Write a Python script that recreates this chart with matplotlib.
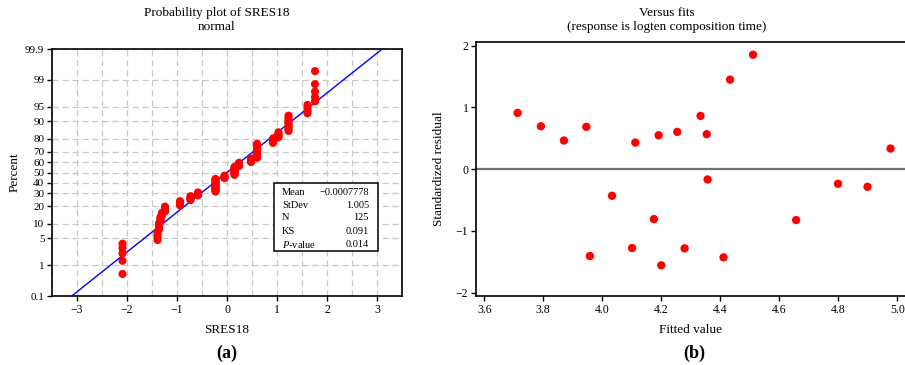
import numpy as np
import matplotlib
matplotlib.use("Agg")
import matplotlib.pyplot as plt
from matplotlib.patches import Rectangle
from matplotlib.ticker import MultipleLocator
from statistics import NormalDist

plt.rcParams['font.family'] = ['Liberation Serif', 'DejaVu Serif']
plt.rcParams['mathtext.fontset'] = 'custom'
plt.rcParams['mathtext.rm'] = 'Liberation Serif'
plt.rcParams['mathtext.it'] = 'Liberation Serif:italic'

# (a) probability plot: distinct residual values and how many share each
sres_values = [-2.09, -1.39, -1.36, -1.33, -1.30, -1.24, -0.94, -0.73, -0.58,
               -0.23, -0.05, 0.15, 0.24, 0.48, 0.60, 0.92, 1.03, 1.23, 1.61, 1.76]
sres_counts = [5, 4, 4, 4, 3, 5, 5, 5, 4, 16, 4, 11, 5, 5, 16, 5, 5, 10, 4, 5]
fit_mean = -0.0007778
fit_sd = 1.005
pct_ticks = [0.1, 1, 5, 10, 20, 30, 40, 50, 60, 70, 80, 90, 95, 99, 99.9]
pct_labels = ['0.1', '1', '5', '10', '20', '30', '40', '50', '60', '70',
              '80', '90', '95', '99', '99.9']
x_ticks_a = [-3, -2, -1, 0, 1, 2, 3]
stat_names = ['Mean', 'StDev', 'N', 'KS', '$P$-value']
stat_values = ['\u22120.0007778', '1.005', '125', '0.091', '0.014']

# (b) standardized residual versus fitted value
fitted = [3.713, 3.792, 3.870, 3.946, 3.958, 4.033, 4.101, 4.112, 4.175, 4.191,
          4.200, 4.254, 4.279, 4.333, 4.354, 4.357, 4.411, 4.433, 4.511, 4.657,
          4.799, 4.899, 4.977]
std_resid = [0.911, 0.695, 0.464, 0.685, -1.407, -0.431, -1.278, 0.431, -0.809, 0.550,
             -1.558, 0.604, -1.283, 0.863, 0.566, -0.167, -1.429, 1.450, 1.854, -0.825,
             -0.237, -0.286, 0.334]
x_ticks_b = [3.6, 3.8, 4.0, 4.2, 4.4, 4.6, 4.8, 5.0]
y_ticks_b = [-2, -1, 0, 1, 2]

nd = NormalDist()

fig = plt.figure(figsize=(9.05, 3.65), dpi=100)
ax1 = fig.add_axes([52 / 905, 69 / 365, 350 / 905, 247 / 365])
ax2 = fig.add_axes([476 / 905, 69 / 365, 429 / 905, 254 / 365])

# ---- left panel
xs = np.repeat(sres_values, sres_counts)
n = len(xs)
ranks = np.arange(1, n + 1)
pct = (ranks - 0.3) / (n + 0.4)
zs = np.array([nd.inv_cdf(p) for p in pct])

z_lo = nd.inv_cdf(0.001)
z_hi = nd.inv_cdf(0.999)
zline = np.linspace(z_lo - 0.2, z_hi + 0.2, 50)
ax1.plot(fit_mean + fit_sd * zline, zline, color='#0000ff', lw=1.0, zorder=3)
ax1.scatter(xs, zs, s=34, color='#ff0000', edgecolors='none', zorder=4)

ax1.set_xlim(-3.5, 3.5)
ax1.set_ylim(z_lo, z_hi)
ax1.set_xticks(x_ticks_a)
ax1.set_xticklabels([str(t).replace('-', '\u2212') for t in x_ticks_a])
ax1.xaxis.set_minor_locator(MultipleLocator(0.5))
ax1.set_yticks([nd.inv_cdf(p / 100) for p in pct_ticks])
ax1.set_yticklabels(pct_labels)
ax1.grid(True, which='both', axis='x', color='#c8c8c8', ls=(0, (5, 3)), lw=0.9)
ax1.grid(True, which='major', axis='y', color='#c8c8c8', ls=(0, (5, 3)), lw=0.9)
ax1.set_axisbelow(True)
ax1.tick_params(which='major', direction='out', length=3.5, width=1, pad=2)
ax1.tick_params(axis='x', labelsize=8.5)
ax1.tick_params(axis='y', labelsize=8)
ax1.tick_params(which='minor', length=0)
for sp in ax1.spines.values():
    sp.set_linewidth(1.2)
ax1.set_xlabel('SRES18', fontsize=9.5, labelpad=6)
ax1.set_ylabel('Percent', fontsize=9.5, labelpad=3)

box = Rectangle((0.634, 0.182), 0.297, 0.275, transform=ax1.transAxes,
                facecolor='white', edgecolor='black', lw=1.1, zorder=5)
ax1.add_patch(box)
row_y = [0.421, 0.368, 0.316, 0.263, 0.208]
for name, val, yy in zip(stat_names, stat_values, row_y):
    ax1.text(0.657, yy, name, transform=ax1.transAxes, fontsize=7.5,
             va='center', ha='left', zorder=6)
    ax1.text(0.906, yy, val, transform=ax1.transAxes, fontsize=7.5,
             va='center', ha='right', zorder=6)

fig.text(217 / 905, 1 - 20 / 365, 'Probability plot of SRES18\nnormal',
         ha='center', va='center', fontsize=9.5, linespacing=1.3)
fig.text(227 / 905, 1 - 353 / 365, '(a)', ha='center', va='center',
         fontsize=13, fontweight='bold')

# ---- right panel
ax2.axhline(0, color='#707070', lw=1.6, zorder=2)
ax2.scatter(fitted, std_resid, s=36, color='#ff0000', edgecolors='none', zorder=4)
ax2.set_xlim(3.572, 5.026)
ax2.set_ylim(-2.055, 2.06)
ax2.set_xticks(x_ticks_b)
ax2.set_xticklabels(['%.1f' % t for t in x_ticks_b])
ax2.set_yticks(y_ticks_b)
ax2.set_yticklabels([str(t).replace('-', '\u2212') for t in y_ticks_b])
ax2.spines['right'].set_visible(False)
for sp in ax2.spines.values():
    sp.set_linewidth(1.2)
ax2.tick_params(direction='out', length=3.5, width=1, labelsize=8.5, pad=2)
ax2.set_xlabel('Fitted value', fontsize=9.5, labelpad=6)
ax2.set_ylabel('Standardized residual', fontsize=9.5, labelpad=8)

fig.text(667 / 905, 1 - 20 / 365, 'Versus fits\n(response is logten composition time)',
         ha='center', va='center', fontsize=9.5, linespacing=1.3)
fig.text(694 / 905, 1 - 353 / 365, '(b)', ha='center', va='center',
         fontsize=13, fontweight='bold')

fig.savefig('out.png', dpi=100)
